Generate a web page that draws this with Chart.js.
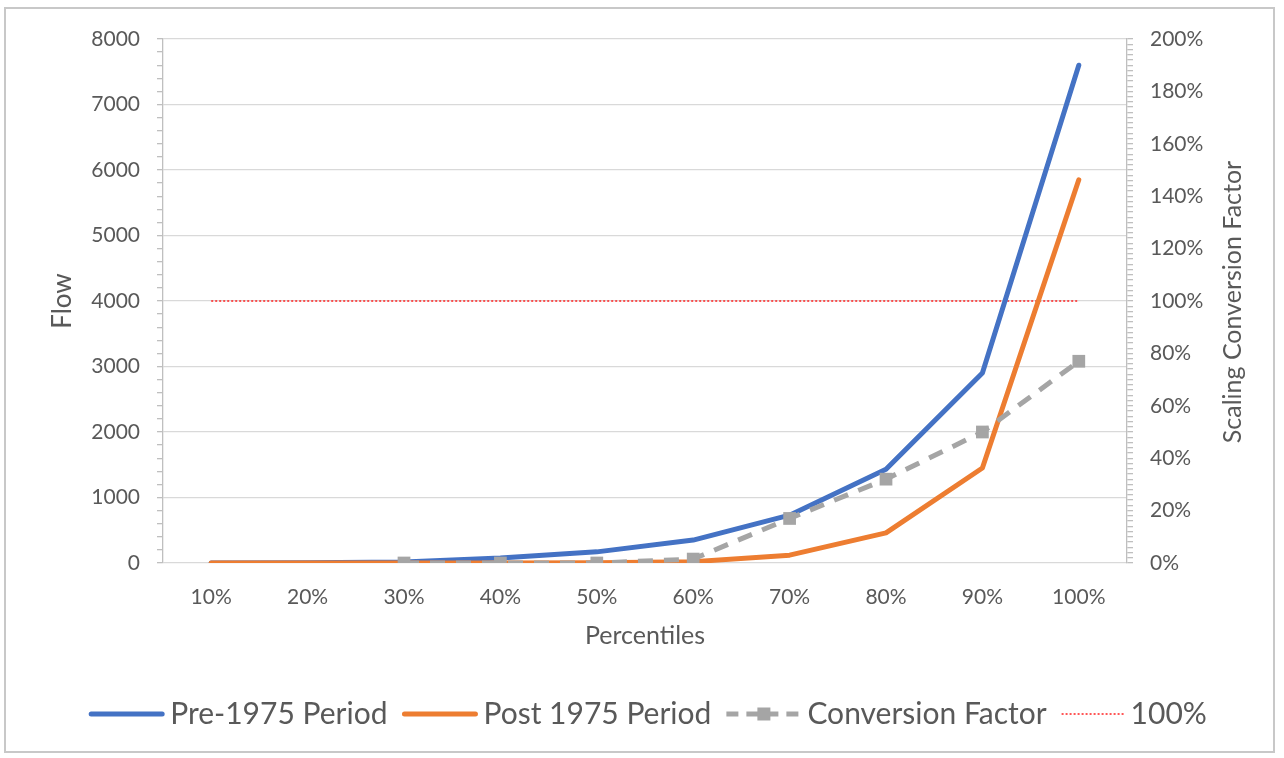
<!DOCTYPE html>
<html>
<head>
<meta charset="utf-8">
<script src="https://cdn.jsdelivr.net/npm/chart.js@4"></script>
<style>
  html, body { margin: 0; padding: 0; background: #fff; }
  #wrap { position: relative; width: 1284px; height: 758px; }
</style>
</head>
<body>
<div id="wrap"><canvas id="chart" width="1284" height="758"></canvas></div>
<script>
const FONT = 'Lato, "Open Sans", sans-serif';
const TEXT = '#595959';
const GRID = '#d9d9d9';
const AXIS = '#bfbfbf';

const percentiles = ['10%', '20%', '30%', '40%', '50%', '60%', '70%', '80%', '90%', '100%'];
const pre1975 = [0, 2, 15, 75, 170, 350, 730, 1430, 2900, 7600];
const post1975 = [0, 0, 0, 0, 5, 20, 120, 460, 1450, 5850];
const conversionFactor = [null, null, 0, 0, 0, 1.5, 17, 32, 50, 77];
const hundredLine = [100, 100, 100, 100, 100, 100, 100, 100, 100, 100];

// Excel style legend, drawn along the bottom
const legendPlugin = {
  id: 'bottomLegend',
  afterDraw (chart) {
    const ctx = chart.ctx
    const items = chart.data.datasets
    const y = 714
    ctx.save()
    ctx.font = `30px ${FONT}`
    let widths = items.map(ds => ds.legendLen + 6 + ctx.measureText(ds.label).width)
    let gap = 15
    let total = widths.reduce((a, b) => a + b, 0) + gap * (items.length - 1)
    let x = 648 - total / 2
    items.forEach((ds, i) => {
      ctx.save()
      ctx.strokeStyle = ds.borderColor
      ctx.lineWidth = ds.borderWidth
      ctx.lineCap = ds.borderDash ? 'butt' : 'round'
      ctx.setLineDash(ds.legendDash || [])
      ctx.beginPath()
      ctx.moveTo(x + (ds.borderDash ? 0 : 2), y)
      ctx.lineTo(x + ds.legendLen - (ds.borderDash ? 0 : 2), y)
      ctx.stroke()
      if (ds.pointRadius) {
        ctx.fillStyle = ds.pointBackgroundColor
        let s = 13
        ctx.fillRect(x + ds.legendLen / 2 - s / 2, y - s / 2, s, s)
      }
      ctx.restore()
      ctx.fillStyle = TEXT
      ctx.textBaseline = 'middle'
      ctx.textAlign = 'left'
      ctx.fillText(ds.label, x + ds.legendLen + 6, y)
      x += widths[i] + gap
    })
    ctx.restore()
  }
}

// right axis title reads bottom-to-top, plus outer frame
const decorPlugin = {
  id: 'decor',
  afterDraw (chart) {
    const ctx = chart.ctx
    ctx.save()
    ctx.translate(1233, 302)
    ctx.rotate(-Math.PI / 2)
    ctx.font = `25px ${FONT}`
    ctx.fillStyle = TEXT
    ctx.textAlign = 'center'
    ctx.textBaseline = 'middle'
    ctx.fillText('Scaling Conversion Factor', 0, 0)
    ctx.restore()
    ctx.save()
    ctx.strokeStyle = '#c8c8c8'
    ctx.lineWidth = 2
    ctx.strokeRect(5, 8, 1269, 744)
    ctx.restore()
  }
}

const ctx = document.getElementById('chart').getContext('2d')
const chart = new Chart(ctx, {
  type: 'line',
  data: {
    labels: percentiles,
    datasets: [{
      label: 'Pre-1975 Period',
      data: pre1975,
      yAxisID: 'y',
      borderColor: '#4472c4',
      borderWidth: 5,
      pointRadius: 0,
      borderCapStyle: 'round',
      borderJoinStyle: 'round',
      legendLen: 75,
      order: 2
    }, {
      label: 'Post 1975 Period',
      data: post1975,
      yAxisID: 'y',
      borderColor: '#ed7d31',
      borderWidth: 5,
      pointRadius: 0,
      borderCapStyle: 'round',
      borderJoinStyle: 'round',
      legendLen: 75,
      order: 1
    }, {
      label: 'Conversion Factor',
      data: conversionFactor,
      yAxisID: 'y1',
      borderColor: '#a5a5a5',
      borderWidth: 5,
      borderDash: [15, 11],
      pointStyle: 'rect',
      pointRadius: 9,
      pointBackgroundColor: '#a5a5a5',
      pointBorderWidth: 0,
      legendLen: 75,
      legendDash: [12, 8],
      order: 0
    }, {
      label: '100%',
      data: hundredLine,
      yAxisID: 'y1',
      borderColor: '#ff2020',
      borderWidth: 1.5,
      borderDash: [2, 2],
      pointRadius: 0,
      legendLen: 63,
      legendDash: [2, 2],
      order: 3
    }]
  },
  options: {
    responsive: false,
    animation: false,
    devicePixelRatio: 1,
    layout: { padding: { left: 0, right: 0, top: 39, bottom: 105 } },
    plugins: {
      legend: { display: false },
      tooltip: { enabled: false }
    },
    scales: {
      x: {
        type: 'category',
        offset: true,
        grid: { display: false, drawTicks: false },
        border: { display: false },
        ticks: { color: TEXT, font: { family: FONT, size: 21 }, padding: 22, maxRotation: 0, autoSkip: false },
        title: { display: true, text: 'Percentiles', color: TEXT, font: { family: FONT, size: 25 }, padding: { top: 2, bottom: 2 } },
        afterFit: s => { s.height = 90 }
      },
      y: {
        position: 'left',
        min: 0,
        max: 8000,
        ticks: {
          stepSize: 200,
          autoSkip: false,
          color: TEXT,
          font: { family: FONT, size: 21 },
          padding: 17,
          callback: v => Math.round(v) % 1000 === 0 ? Math.round(v) : ''
        },
        grid: {
          color: c => c.tick && Math.round(c.tick.value) % 1000 === 0 ? GRID : 'rgba(0,0,0,0)',
          tickColor: AXIS,
          tickLength: 6,
          lineWidth: 1.3
        },
        border: { color: AXIS, width: 1.3 },
        title: { display: true, text: 'Flow', color: TEXT, font: { family: FONT, size: 26 }, padding: { top: 47, bottom: 0 } },
        afterFit: s => { s.width = 163 }
      },
      y1: {
        position: 'right',
        min: 0,
        max: 200,
        ticks: {
          stepSize: 2,
          autoSkip: false,
          color: TEXT,
          font: { family: FONT, size: 21 },
          padding: 17,
          callback: v => Math.round(v) % 20 === 0 ? Math.round(v) + '%' : ''
        },
        grid: { drawOnChartArea: false, tickColor: AXIS, tickLength: 6, lineWidth: 1.3 },
        border: { color: AXIS, width: 1.3 },
        afterFit: s => { s.width = 157 }
      }
    }
  },
  plugins: [legendPlugin, decorPlugin]
})
</script>
</body>
</html>
